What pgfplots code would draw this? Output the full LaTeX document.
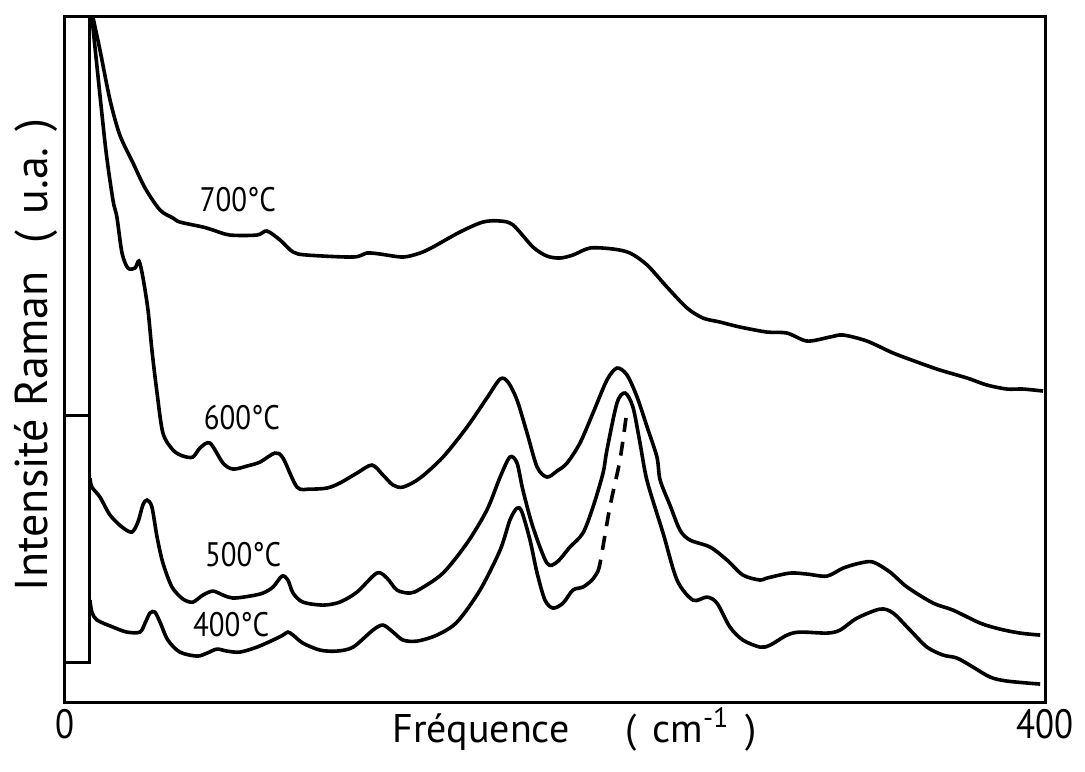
\documentclass[border=0pt]{standalone}
\usepackage{fontspec}
\setmainfont[FakeStretch=0.85]{PT Sans}
\newfontfamily\widefont{PT Sans}
\usepackage{pgfplots}
\pgfplotsset{compat=1.18}

% Raman spectra, x in cm^-1, y in arbitrary units (offset traces)
\pgfplotstableread{
x y
11.4 685
14.3 652
18.4 602
22.4 567
27.8 539
32.7 514
38.8 492
44.1 484
46.9 480
56.3 475
60.4 472
67.3 467
78.4 467
82.4 471
87.8 462
93.1 450
98.8 447
117.6 445
123.3 449
128.6 448
138.0 445
144.9 449
150.2 455
161.2 470
170.6 480
177.6 481
182.9 477
191.0 455
196.7 446
202.0 444
207.3 447
214.3 454
223.7 453
230.6 449
237.6 437
245.7 415
253.9 394
260.4 384
267.3 380
275.5 375
286.5 370
294.7 369
302.9 361
312.2 365
317.6 367
327.3 361
338.0 349
347.8 340
357.1 332
368.2 324
376.3 317
384.5 313
391.0 313
399.2 311
}\tsevenhundred

\pgfplotstableread{
x y
11.0 685
13.1 635
16.7 552
19.6 502
21.2 485
23.3 449
25.7 434
28.6 434
30.2 441
31.8 425
33.9 392
35.5 352
37.6 309
40.0 269
44.1 252
48.2 246
52.2 245
55.1 254
59.2 259
64.5 239
68.6 233
74.3 236
79.6 240
85.7 249
89.0 244
94.7 215
100.0 213
106.9 214
112.2 219
119.2 229
125.3 237
129.8 227
133.9 217
138.0 215
144.9 224
154.3 245
164.1 275
172.2 304
177.6 323
180.8 320
184.5 302
188.6 269
192.7 235
196.7 225
200.8 231
204.9 239
210.2 259
215.5 289
221.2 322
225.3 334
229.4 327
233.5 305
237.6 275
241.6 245
242.9 222
246.9 197
251.0 172
255.1 162
263.3 155
270.2 142
276.7 127
283.7 122
286.5 124
295.9 129
302.9 128
311.0 126
317.6 134
324.5 139
329.8 140
336.7 130
343.7 115
354.3 99
362.4 92
373.5 79
381.6 73
389.8 69
398.0 67
}\tsixhundred

\pgfplotstableread{
x y
10.2 224
11.0 215
14.3 205
18.4 187
23.3 175
27.3 170
29.8 180
31.8 197
33.5 202
35.5 195
37.6 165
40.0 139
43.7 115
48.2 103
52.2 100
56.3 107
60.4 111
64.5 107
68.6 104
75.5 106
80.8 109
84.9 115
88.6 126
91.0 122
93.1 109
97.1 100
105.3 97
112.2 100
119.2 110
127.3 129
131.4 124
135.5 112
140.8 109
144.9 113
154.3 129
164.1 159
172.2 192
177.6 225
181.6 245
184.5 239
186.9 212
191.0 175
196.7 139
200.8 140
206.1 155
211.4 169
215.5 195
219.6 229
221.2 252
225.3 299
228.6 309
231.8 295
234.7 259
237.6 221
244.1 169
249.8 122
256.3 102
262.0 105
266.1 99
271.4 75
276.7 62
283.7 55
287.8 57
294.7 67
300.0 70
311.0 69
316.3 72
323.3 84
332.7 93
338.0 89
344.9 72
351.8 55
358.4 47
364.1 44
370.6 35
377.6 25
384.5 21
398.0 18
}\tfivehundred

\pgfplotstableread{
x y
10.2 102
11.0 90
13.1 82
19.6 75
25.3 70
30.6 70
32.7 79
34.7 89
36.7 90
38.8 80
42.0 62
46.9 50
53.9 46
58.0 49
62.0 53
66.1 51
71.4 50
78.4 55
84.9 62
89.0 67
91.0 70
93.1 67
97.1 59
104.1 52
111.0 51
117.6 55
125.7 72
129.8 77
133.9 70
138.0 62
143.7 61
151.8 67
160.0 80
169.4 112
177.6 152
181.6 182
184.5 194
186.5 190
189.8 162
192.7 129
195.9 102
199.2 94
203.3 99
207.3 112
211.4 115
215.1 122
217.1 129
}\tfourhundred

\pgfplotstableread{
x y
217.1 129
218.4 139
222.4 195
226.5 242
229.4 292
}\tfourhundreddash

\begin{document}
\begin{tikzpicture}
\begin{axis}[
    scale only axis,
    width=490pt,
    height=342.5pt,
    xmin=0, xmax=400,
    ymin=0, ymax=685,
    xtick={0,400},
    ytick=\empty,
    major tick length=0pt,
    axis line style={line width=1.5pt},
    tick label style={font=\fontsize{20.5}{24}\selectfont},
    /pgf/number format/assume math mode=true,
    xlabel={Fréquence\hspace{28pt}(\hspace{8pt}cm\textsuperscript{-1}\hspace{8pt})},
    xlabel style={font=\widefont\fontsize{20}{24}\selectfont, at={(axis description cs:0.52,0)}, anchor=north, yshift=1pt},
    ylabel={Intensité Raman\hspace{14pt}(\hspace{8pt}u.a.\hspace{8pt})},
    ylabel style={font=\widefont\fontsize{23}{26}\selectfont, at={(axis description cs:-0.0173,0.507)}, anchor=base},
    clip=false,
    cycle list={{black}},
    every axis plot/.append style={line width=1.8pt, no marks, smooth, tension=0.5},
]
\addplot table {\tsevenhundred};
\addplot table {\tsixhundred};
\addplot table {\tfivehundred};
\addplot table {\tfourhundred};
\addplot[black, dashed, dash pattern=on 7pt off 5pt] table {\tfourhundreddash};

% reference bar at the left
\draw[line width=1.5pt] (axis cs:0,40) -- (axis cs:10.2,40) -- (axis cs:10.2,685);
\draw[line width=1.5pt] (axis cs:0,287) -- (axis cs:10.2,287);

\node[font=\fontsize{17}{20}\selectfont] at (axis cs:70.6,502) {700°C};
\node[font=\fontsize{17}{20}\selectfont] at (axis cs:72.2,284) {600°C};
\node[font=\fontsize{17}{20}\selectfont] at (axis cs:72.7,147) {500°C};
\node[font=\fontsize{17}{20}\selectfont] at (axis cs:67.8,77) {400°C};

\path (axis cs:-26.5,702) rectangle (axis cs:416.3,-69);
\end{axis}
\end{tikzpicture}
\end{document}
